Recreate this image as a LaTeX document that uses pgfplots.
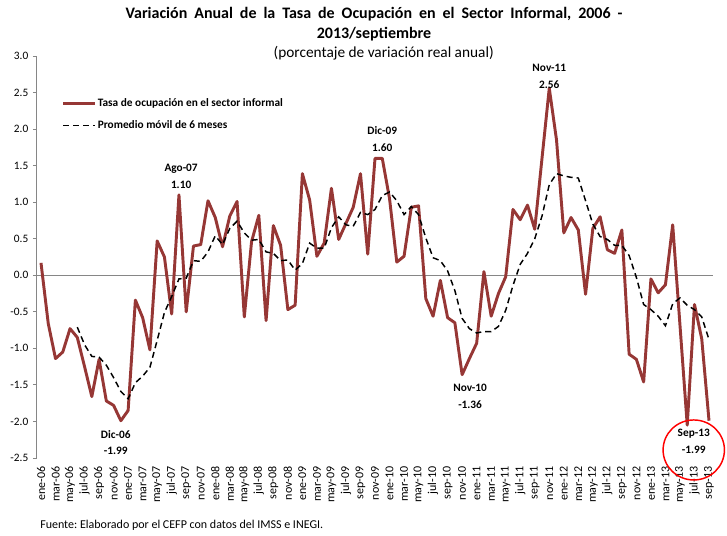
\documentclass[border=0pt]{standalone}
\usepackage{pgfplots}
\pgfplotsset{compat=1.18}
\usepackage{pgfplotstable}
\usepackage{fontspec}
\setmainfont{Carlito}
\frenchspacing

\definecolor{tasared}{RGB}{150,55,53}
\definecolor{axisgray}{RGB}{134,134,134}

% x = month index (0 = ene-06), tasa = annual change, prom = 6-month moving average
\pgfplotstableread{
x tasa prom
0 0.17 nan
1 -0.66 nan
2 -1.14 nan
3 -1.05 nan
4 -0.73 nan
5 -0.85 -0.71
6 -1.25 -0.95
7 -1.66 -1.11
8 -1.15 -1.12
9 -1.72 -1.23
10 -1.78 -1.40
11 -1.99 -1.59
12 -1.85 -1.69
13 -0.34 -1.47
14 -0.58 -1.38
15 -1.02 -1.26
16 0.47 -0.89
17 0.25 -0.51
18 -0.53 -0.29
19 1.10 -0.05
20 -0.50 -0.04
21 0.40 0.20
22 0.42 0.19
23 1.02 0.32
24 0.79 0.54
25 0.39 0.42
26 0.81 0.64
27 1.01 0.74
28 -0.57 0.58
29 0.46 0.48
30 0.82 0.49
31 -0.62 0.32
32 0.68 0.30
33 0.41 0.20
34 -0.47 0.21
35 -0.41 0.07
36 1.39 0.16
37 1.03 0.44
38 0.26 0.37
39 0.44 0.37
40 1.19 0.65
41 0.49 0.80
42 0.71 0.69
43 0.93 0.67
44 1.39 0.86
45 0.29 0.83
46 1.60 0.90
47 1.60 1.09
48 1.05 1.14
49 0.18 1.02
50 0.26 0.83
51 0.93 0.94
52 0.95 0.83
53 -0.32 0.51
54 -0.56 0.24
55 -0.07 0.20
56 -0.58 0.06
57 -0.65 -0.21
58 -1.36 -0.59
59 -1.14 -0.73
60 -0.93 -0.79
61 0.05 -0.77
62 -0.56 -0.77
63 -0.25 -0.70
64 -0.02 -0.48
65 0.90 -0.14
66 0.76 0.15
67 0.96 0.30
68 0.63 0.50
69 1.60 0.81
70 2.56 1.24
71 1.85 1.39
72 0.58 1.36
73 0.79 1.34
74 0.62 1.33
75 -0.26 1.02
76 0.64 0.70
77 0.80 0.53
78 0.35 0.49
79 0.30 0.41
80 0.62 0.41
81 -1.08 0.27
82 -1.15 -0.03
83 -1.46 -0.40
84 -0.05 -0.47
85 -0.24 -0.56
86 -0.13 -0.69
87 0.69 -0.39
88 -0.68 -0.31
89 -2.05 -0.41
90 -0.40 -0.47
91 -0.87 -0.57
92 -1.99 -0.88
}\datos

\begin{document}
\begin{tikzpicture}
\begin{axis}[
  at={(0pt,0pt)}, anchor=south west,
  scale only axis,
  width=507pt, height=301.5pt,
  xmin=-0.55, xmax=92.55,
  ymin=-2.5, ymax=3.0,
  ytick={-2.5,-2,...,3},
  axis y line*=left,
  axis x line*=bottom,
  x axis line style={draw=none},
  y axis line style={draw=axisgray, line width=0.75pt},
  xtick={0,2,...,92},
  xticklabels={ene-06,mar-06,may-06,jul-06,sep-06,nov-06,
    ene-07,mar-07,may-07,jul-07,sep-07,nov-07,
    ene-08,mar-08,may-08,jul-08,sep-08,nov-08,
    ene-09,mar-09,may-09,jul-09,sep-09,nov-09,
    ene-10,mar-10,may-10,jul-10,sep-10,nov-10,
    ene-11,mar-11,may-11,jul-11,sep-11,nov-11,
    ene-12,mar-12,may-12,jul-12,sep-12,nov-12,
    ene-13,mar-13,may-13,jul-13,sep-13},
  x tick label style={rotate=90, anchor=east, font=\fontsize{9}{10}\selectfont},
  xtick style={draw=none},
  ytick style={draw=axisgray, line width=0.75pt},
  major tick length=3pt,
  tick align=outside,
  yticklabel style={/pgf/number format/.cd, fixed, fixed zerofill, precision=1,
    assume math mode=true, /tikz/.cd, font=\fontsize{8.5}{10}\selectfont},
  unbounded coords=discard,
  clip=false,
  legend style={at={(0.03,0.908)}, anchor=north west, draw=none, fill=none,
    font=\bfseries\fontsize{8.5}{9}\selectfont, row sep=5pt, cells={anchor=west},
    /tikz/every even column/.append style={column sep=0pt}},
  legend image code/.code={\draw[#1] (0pt,0pt) -- (24pt,0pt);},
]
\draw[axisgray, line width=0.75pt] (axis cs:-0.55,0) -- (axis cs:92.55,0);
\addplot[tasared, line width=2.2pt, line join=round] table[x=x, y=tasa] {\datos};
\addlegendentry[inner xsep=1pt]{Tasa de ocupación en el sector informal}
\addplot[black, line width=1.1pt, dash pattern=on 4.5pt off 3pt] table[x=x, y=prom] {\datos};
\addlegendentry[inner xsep=1pt]{Promedio móvil de 6 meses}

\tikzset{anno/.style={font=\bfseries\fontsize{8.5}{12.5}\selectfont, align=center}}
\node[anno] at (axis cs:10.3,-2.29) {Dic-06\\-1.99};
\node[anno] at (axis cs:19.3,1.35) {Ago-07\\1.10};
\node[anno] at (axis cs:47.0,1.86) {Dic-09\\1.60};
\node[anno] at (axis cs:59.1,-1.66) {Nov-10\\-1.36};
\node[anno] at (axis cs:70.0,2.72) {Nov-11\\2.56};
\node[anno] at (axis cs:89.9,-2.27) {Sep-13\\-1.99};
\draw[red, line width=1.1pt] (axis cs:89.9,-2.39) ellipse [x radius=23pt, y radius=22.5pt];
\end{axis}

\node[font=\bfseries\fontsize{12}{15}\selectfont, align=center] at (252.75pt,325.5pt)
  {\spaceskip=5.2pt Variación Anual de la Tasa de Ocupación en el Sector Informal, 2006 -\\2013/septiembre};
\node[font=\fontsize{11.5}{12}\selectfont] at (260pt,303.75pt) {(porcentaje de variación real anual)};
\node[font=\fontsize{9}{10}\selectfont, anchor=west, inner sep=0pt] at (2.25pt,-50.25pt)
  {Fuente: Elaborado por el CEFP con datos del IMSS e INEGI.};

\pgfresetboundingbox
\path[use as bounding box] (-27.75pt,-57.75pt) rectangle (517.5pt,343.5pt);
\end{tikzpicture}
\end{document}
